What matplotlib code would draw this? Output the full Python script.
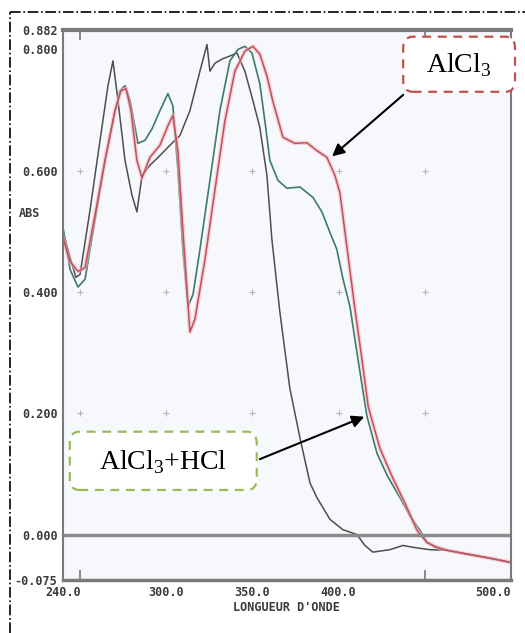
import numpy as np
import matplotlib
matplotlib.use("Agg")
import matplotlib.pyplot as plt
from matplotlib.patches import FancyBboxPatch
from matplotlib.lines import Line2D

plt.rcParams['mathtext.fontset'] = 'custom'
plt.rcParams['mathtext.rm'] = 'Liberation Serif'

# wavelength (nm) / absorbance
wl_meoh = [240.0, 244.1, 247.5, 249.9, 255.7, 261.5, 266.1, 269.0, 271.9, 276.0,
           280.0, 282.9, 285.9, 290.5, 296.3, 302.1, 307.9, 313.7, 319.5, 323.6,
           325.3, 328.2, 332.3, 336.9, 341.0, 345.6, 350.3, 354.3, 358.4, 361.3,
           365.9, 371.7, 377.6, 383.4, 387.4, 395.0, 402.5, 410.6, 415.3, 419.9,
           429.8, 437.3, 443.1, 453.0, 462.9, 476.2, 487.8, 500.0]
abs_meoh = [0.499, 0.457, 0.424, 0.429, 0.535, 0.650, 0.740, 0.781, 0.716, 0.617,
            0.560, 0.532, 0.592, 0.609, 0.625, 0.642, 0.658, 0.699, 0.764, 0.808,
            0.764, 0.777, 0.784, 0.789, 0.794, 0.764, 0.715, 0.671, 0.592, 0.486,
            0.367, 0.241, 0.159, 0.085, 0.061, 0.025, 0.008, 0.000, -0.018, -0.029,
            -0.025, -0.018, -0.021, -0.025, -0.026, -0.033, -0.039, -0.046]

wl_hcl = [240.0, 244.1, 248.7, 252.8, 258.6, 264.4, 270.2, 273.1, 276.0, 278.9,
          283.5, 287.6, 291.7, 296.3, 300.9, 303.8, 306.7, 309.6, 312.6, 315.5,
          319.5, 325.3, 331.1, 336.9, 341.6, 345.6, 349.7, 354.3, 357.2, 360.1,
          364.8, 370.0, 377.6, 385.1, 390.3, 395.0, 399.0, 402.5, 406.6, 411.2,
          416.4, 422.3, 428.1, 435.6, 441.4, 447.2, 451.3, 455.9, 462.9, 476.2,
          487.8, 500.0]
abs_hcl = [0.506, 0.437, 0.408, 0.421, 0.519, 0.617, 0.699, 0.732, 0.740, 0.716,
           0.645, 0.650, 0.669, 0.699, 0.727, 0.707, 0.601, 0.470, 0.376, 0.396,
           0.470, 0.584, 0.699, 0.781, 0.800, 0.805, 0.794, 0.743, 0.682, 0.617,
           0.584, 0.571, 0.573, 0.556, 0.532, 0.498, 0.470, 0.422, 0.376, 0.290,
           0.196, 0.134, 0.098, 0.061, 0.031, 0.007, -0.013, -0.021, -0.026, -0.033,
           -0.039, -0.046]

wl_alcl3 = [240.0, 244.1, 248.7, 252.8, 258.6, 264.4, 270.2, 273.7, 276.6, 279.5,
            282.9, 285.9, 290.5, 296.3, 300.9, 303.8, 306.7, 309.6, 313.7, 316.6,
            322.4, 328.2, 334.0, 339.8, 345.6, 350.3, 354.3, 358.4, 361.8, 367.7,
            374.6, 381.6, 387.4, 393.2, 397.9, 400.8, 404.8, 409.5, 413.5, 417.2,
            424.0, 431.5, 438.5, 445.5, 451.3, 457.1, 462.9, 476.2, 487.8, 500.0]
abs_alcl3 = [0.489, 0.450, 0.434, 0.440, 0.527, 0.617, 0.699, 0.732, 0.735, 0.699,
             0.617, 0.588, 0.622, 0.642, 0.674, 0.691, 0.633, 0.502, 0.334, 0.355,
             0.453, 0.568, 0.682, 0.764, 0.797, 0.805, 0.792, 0.756, 0.715, 0.655,
             0.645, 0.646, 0.633, 0.622, 0.592, 0.563, 0.475, 0.372, 0.290, 0.211,
             0.142, 0.093, 0.052, 0.007, -0.013, -0.021, -0.026, -0.033, -0.039, -0.046]

x_labels = [240.0, 300.0, 350.0, 400.0, 500.0]
x_marks = [250, 300, 350, 400, 450]
y_labels = [-0.075, 0.0, 0.2, 0.4, 0.6, 0.8, 0.832]
y_label_text = ['-0.075', '0.000', '0.200', '0.400', '0.600', '0.800', '0.882']
y_marks = [0.2, 0.4, 0.6]

fig = plt.figure(figsize=(5.25, 6.33), dpi=100)
ax = fig.add_axes([0.12, 0.0837, 0.853, 0.869])
ax.set_facecolor('#f6f8fb')

ax.plot(wl_meoh, abs_meoh, color='#4e4e4e', lw=1.1)
ax.plot(wl_hcl, abs_hcl, color='#3d7b68', lw=1.2)
ax.plot(wl_alcl3, abs_alcl3, color='#f3b8bf', lw=3.0, alpha=0.6)
ax.plot(wl_alcl3, abs_alcl3, color='#c0505e', lw=1.1)

ax.axhline(0, color='#8c8c8c', lw=2.5)

# faint grid crosses
gx, gy = np.meshgrid(x_marks, y_marks)
ax.plot(gx.ravel(), gy.ravel(), '+', color='#b5b5b5', ms=4, mew=0.8)

ax.set_xlim(240, 500)
ax.set_ylim(-0.075, 0.832)

mono = dict(family='DejaVu Sans Mono', weight='bold', size=8.5)
ax.set_xticks(x_labels)
ax.set_xticklabels([f'{v:.1f}' for v in x_labels], fontdict=mono, color='#3a3a3a')
ax.get_xticklabels()[-1].set_horizontalalignment('right')
ax.set_yticks(y_labels)
ax.set_yticklabels(y_label_text, fontdict=mono, color='#3a3a3a')
ax.tick_params(axis='both', which='major', length=0, pad=4)
ax.set_xticks(x_marks, minor=True)
ax.set_yticks(y_marks, minor=True)
ax.tick_params(which='minor', direction='in', length=7, width=1.2, color='#777777',
               top=True, right=True)
ax.set_xlabel("LONGUEUR D'ONDE", fontdict=mono, color='#3a3a3a', labelpad=2)
fig.text(0.035, 0.663, 'ABS', fontdict=mono, color='#3a3a3a', va='center')

for side, lw in [('top', 3), ('bottom', 2.5), ('left', 1.5), ('right', 1.5)]:
    ax.spines[side].set_color('#7a7a7a')
    ax.spines[side].set_linewidth(lw)

# annotation boxes
serif = dict(family='Liberation Serif', size=20)
for (x0, y0, w, h), col in [((0.768, 0.855, 0.213, 0.087), '#c0504d'),
                             ((0.133, 0.226, 0.356, 0.092), '#9bbb59')]:
    box = FancyBboxPatch((x0, y0), w, h, boxstyle='round,pad=0,rounding_size=0.018',
                         transform=fig.transFigure, facecolor='white', edgecolor=col,
                         lw=1.6, ls=(0, (4, 3)), zorder=5)
    fig.patches.append(box)
fig.text(0.874, 0.897, r'AlCl$_\mathregular{3}$', ha='center', va='center', zorder=6, **serif)
fig.text(0.3105, 0.270, r'AlCl$_\mathregular{3}$+HCl', ha='center', va='center', zorder=6, **serif)

tip1 = 395.0
tip2 = 416.4
ax.annotate('', xy=(tip1, np.interp(tip1, wl_alcl3, abs_alcl3) + 0.01),
            xytext=(0.772, 0.853), textcoords='figure fraction',
            arrowprops=dict(arrowstyle='-|>', color='black', lw=1.5, mutation_scale=18))
ax.annotate('', xy=(tip2, np.interp(tip2, wl_hcl, abs_hcl)),
            xytext=(0.49, 0.273), textcoords='figure fraction',
            arrowprops=dict(arrowstyle='-|>', color='black', lw=1.5, mutation_scale=18))

# dash-dot frame of the scanned figure
fig.lines.append(Line2D([0.019, 0.019], [0.0, 0.981], transform=fig.transFigure,
                        color='black', lw=1.2, ls='-.'))
fig.lines.append(Line2D([0.019, 1.0], [0.981, 0.981], transform=fig.transFigure,
                        color='black', lw=1.2, ls='-.'))

fig.savefig('out.png', dpi=100, facecolor='white')
